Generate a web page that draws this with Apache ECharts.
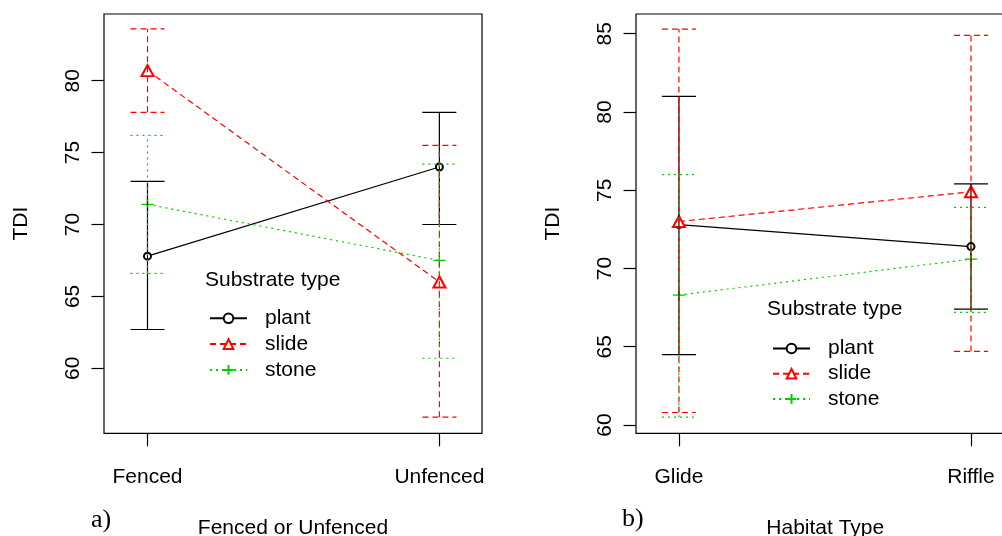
<!DOCTYPE html>
<html>
<head>
<meta charset="utf-8">
<script src="https://cdn.jsdelivr.net/npm/echarts@6/dist/echarts.min.js"></script>
<style>
html,body{margin:0;padding:0;background:#fff;}
#chart{width:1002px;height:536px;}
</style>
</head>
<body>
<div id="chart"></div>
<script>
// ---- data ----
const catsA = ['Fenced', 'Unfenced'];
const catsB = ['Glide', 'Riffle'];
const yTicksA = [60, 65, 70, 75, 80];
const yTicksB = [60, 65, 70, 75, 80, 85];
const seriesNames = ['plant', 'slide', 'stone'];

// Panel a) Fenced or Unfenced
const plantMeanA = [67.8, 74.0];
const plantLowA  = [62.7, 70.0];
const plantHighA = [73.0, 77.8];
const slideMeanA = [80.7, 66.0];
const slideLowA  = [77.8, 56.6];
const slideHighA = [83.6, 75.5];
const stoneMeanA = [71.4, 67.5];
const stoneLowA  = [66.6, 60.7];
const stoneHighA = [76.2, 74.2];

// Panel b) Habitat Type
const plantMeanB = [72.8, 71.4];
const plantLowB  = [64.5, 67.4];
const plantHighB = [81.0, 75.4];
const slideMeanB = [73.0, 74.9];
const slideLowB  = [60.8, 64.7];
const slideHighB = [85.3, 84.9];
const stoneMeanB = [68.3, 70.6];
const stoneLowB  = [60.5, 67.2];
const stoneHighB = [76.0, 73.9];

// ---- styling ----
const FONT = 'Liberation Sans, Arial, sans-serif';
const FS = 21;
const styles = {
  plant: {color: '#000000', dash: 'solid', ldash: null, symbol: 'emptyCircle', size: 7},
  slide: {color: '#ff0000', dash: [6, 4], ldash: [6, 4], symbol: 'emptyTriangle', size: [12, 11]},
  stone: {color: '#00cd00', dash: [2, 4], ldash: [2, 4], symbol: 'path://M5,0L5,10M0,5L10,5', size: 12}
};

function pts(arr) { return arr.map((v, i) => [i + 1, v]); }
function bars(lo, hi) { return lo.map((v, i) => [i + 1, v, hi[i]]); }

function errRender(color, dash) {
  return function (params, api) {
    const x = api.value(0), lo = api.value(1), hi = api.value(2);
    const a = api.coord([x, lo]), b = api.coord([x, hi]);
    const cap = 17;
    const st = {stroke: color, lineWidth: 1.2, lineDash: dash, fill: null};
    return {type: 'group', children: [
      {type: 'line', shape: {x1: a[0], y1: a[1], x2: b[0], y2: b[1]}, style: st},
      {type: 'line', shape: {x1: a[0] - cap, y1: a[1], x2: a[0] + cap, y2: a[1]}, style: st},
      {type: 'line', shape: {x1: b[0] - cap, y1: b[1], x2: b[0] + cap, y2: b[1]}, style: st}
    ]};
  };
}

function lineSeries(name, data, gi) {
  const s = styles[name];
  const isPath = s.symbol.indexOf('path://') === 0;
  return {
    name: name, type: 'line', xAxisIndex: gi, yAxisIndex: gi,
    data: data, symbol: s.symbol, symbolSize: s.size,
    showAllSymbol: true, animation: false,
    lineStyle: {color: s.color, width: 1.2, type: s.dash},
    itemStyle: isPath ? {color: s.color, borderColor: s.color, borderWidth: 1.3}
                      : {color: s.color, borderWidth: 1.2},
    z: 3
  };
}
function errSeries(name, lo, hi, gi) {
  const s = styles[name];
  return {
    name: name + ' error', type: 'custom', xAxisIndex: gi, yAxisIndex: gi,
    data: bars(lo, hi), encode: {x: 0, y: [1, 2]},
    renderItem: errRender(s.color, s.ldash), animation: false, z: 4
  };
}

function xAxis(gi, cats, min, max, name) {
  return {
    type: 'value', gridIndex: gi, min: min, max: max,
    axisLine: {show: false}, splitLine: {show: false},
    axisTick: {show: true, customValues: [1, 2], length: 13, lineStyle: {color: '#000', width: 1.2}},
    axisLabel: {show: true, customValues: [1, 2], margin: 33, color: '#000', fontFamily: FONT, fontSize: FS,
      formatter: function (v) { return cats[Math.round(v) - 1]; }},
    name: name, nameLocation: 'middle', nameGap: 84,
    nameTextStyle: {color: '#000', fontFamily: FONT, fontSize: FS}
  };
}
function yAxis(gi, ticks, min, max) {
  return {
    type: 'value', gridIndex: gi, min: min, max: max,
    axisLine: {show: false}, splitLine: {show: false},
    axisTick: {show: true, customValues: ticks, length: 12.5, lineStyle: {color: '#000', width: 1.2}},
    axisLabel: {show: true, customValues: ticks, rotate: 90, margin: 20, color: '#000', fontFamily: FONT, fontSize: FS},
    name: 'TDI', nameLocation: 'middle', nameGap: 72,
    nameTextStyle: {color: '#000', fontFamily: FONT, fontSize: FS}
  };
}
function legend(left, top, gap) {
  return {
    data: seriesNames, orient: 'vertical', left: left, top: top, padding: 0,
    itemWidth: 37, itemHeight: 12, itemGap: gap, selectedMode: false,
    textStyle: {color: '#000', fontFamily: FONT, fontSize: FS, lineHeight: 21, padding: [0, 0, 0, 13]}
  };
}

const chart = echarts.init(document.getElementById('chart'), null, {renderer: 'canvas'});
chart.setOption({
  backgroundColor: '#ffffff',
  animation: false,
  grid: [
    {left: 104, top: 14, width: 378, height: 419.3, outerBoundsMode: 'none', containLabel: false,
     show: true, borderColor: '#000', borderWidth: 1.2, backgroundColor: 'transparent'},
    {left: 636, top: 14, width: 378.5, height: 419.3, outerBoundsMode: 'none', containLabel: false,
     show: true, borderColor: '#000', borderWidth: 1.2, backgroundColor: 'transparent'}
  ],
  xAxis: [
    xAxis(0, catsA, 0.851, 2.146, 'Fenced or Unfenced'),
    xAxis(1, catsB, 0.853, 2.149, 'Habitat Type')
  ],
  yAxis: [
    yAxis(0, yTicksA, 55.48, 84.64),
    yAxis(1, yTicksB, 59.47, 86.26)
  ],
  legend: [
    legend(209, 307.8, 4.8),
    legend(772, 338, 4.2)
  ],
  graphic: [
    {type: 'text', left: 91, top: 507, style: {text: 'a)', font: '26px "Liberation Serif", "Times New Roman", serif', fill: '#000'}},
    {type: 'text', left: 622, top: 506, style: {text: 'b)', font: '26px "Liberation Serif", "Times New Roman", serif', fill: '#000'}},
    {type: 'text', left: 205, top: 270, style: {text: 'Substrate type', font: FS + 'px ' + FONT, fill: '#000'}},
    {type: 'text', left: 767, top: 299, style: {text: 'Substrate type', font: FS + 'px ' + FONT, fill: '#000'}}
  ],
  series: [
    lineSeries('plant', pts(plantMeanA), 0),
    lineSeries('slide', pts(slideMeanA), 0),
    lineSeries('stone', pts(stoneMeanA), 0),
    errSeries('plant', plantLowA, plantHighA, 0),
    errSeries('slide', slideLowA, slideHighA, 0),
    errSeries('stone', stoneLowA, stoneHighA, 0),
    lineSeries('plant', pts(plantMeanB), 1),
    lineSeries('slide', pts(slideMeanB), 1),
    lineSeries('stone', pts(stoneMeanB), 1),
    errSeries('plant', plantLowB, plantHighB, 1),
    errSeries('slide', slideLowB, slideHighB, 1),
    errSeries('stone', stoneLowB, stoneHighB, 1)
  ]
});
</script>
</body>
</html>
